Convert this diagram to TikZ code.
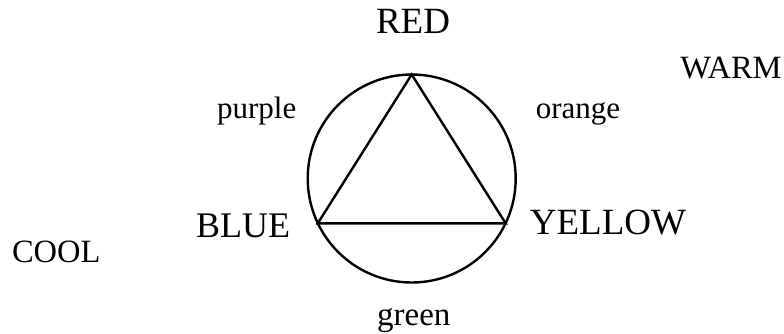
\documentclass[tikz,border=0pt]{standalone}
\usepackage{fontspec}
\setmainfont{Liberation Serif}
\usetikzlibrary{positioning,calc}

\begin{document}
\begin{tikzpicture}[
  x=1pt, y=-1pt,
  primary/.style={anchor=base, font=\fontsize{36}{40}\selectfont},
  mixed/.style={anchor=base, font=\fontsize{31}{36}\selectfont},
  side/.style={anchor=base, font=\fontsize{32.5}{36}\selectfont},
  wheelstyle/.style={draw, circle, line width=2.4pt, minimum size=208pt, inner sep=0pt, outer sep=0pt}
]
\useasboundingbox (0,0) rectangle (784,333);

\node[wheelstyle] (wheel) at (411.7,178.5) {};

\coordinate (top) at (wheel.north);
\coordinate (left) at ($(wheel.center)+(-93.9,44.8)$);
\coordinate (right) at ($(wheel.center)+(93.9,44.8)$);
\draw[line width=2.4pt, line join=miter] (top) -- (left) -- (right) -- cycle;

\node[primary, font=\fontsize{37}{40}\selectfont] (red) at (413,33.3) {RED};
\node[primary] (blue) at (243,237.3) {BLUE};
\node[primary, font=\fontsize{37}{40}\selectfont] (yellow) at (608,234) {YELLOW};

\node[mixed] (purple) at (256.7,118.3) {purple};
\node[mixed] (orange) at (578,118.3) {orange};
\node[mixed, font=\fontsize{33}{36}\selectfont] (green) at (413.8,325.7) {green};

\node[side] (warm) at (731,78.3) {WARM};
\node[side] (cool) at (56.3,262.3) {COOL};

\end{tikzpicture}
\end{document}
